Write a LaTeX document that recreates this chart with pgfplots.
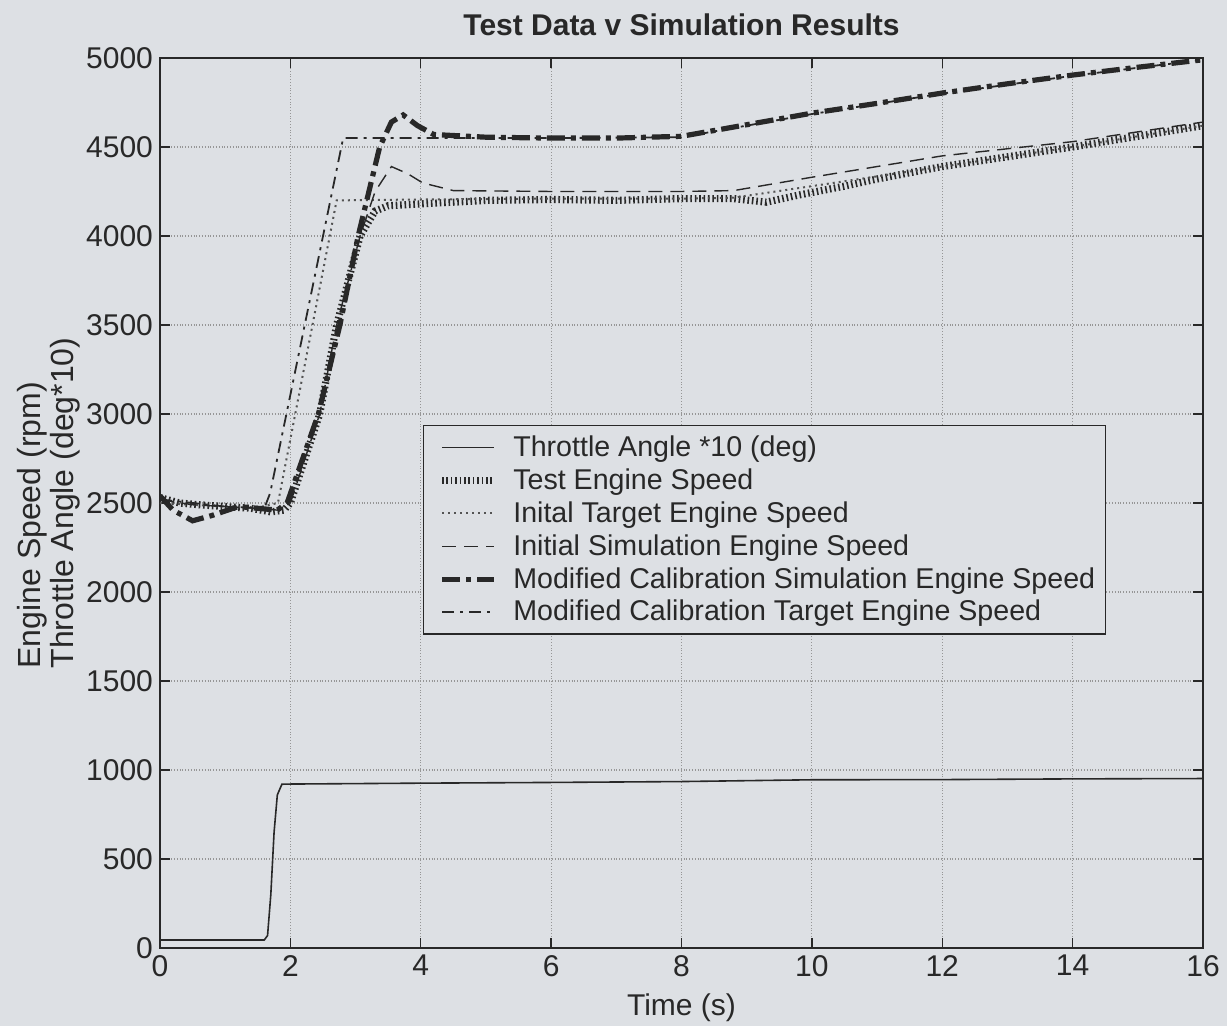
\documentclass[border=0pt]{standalone}
\usepackage{fontspec}
\setmainfont{Liberation Sans}
\usepackage{pgfplots}
\pgfplotsset{compat=1.18}

\definecolor{bgc}{RGB}{221,224,228}
\definecolor{ink}{RGB}{40,40,40}
\definecolor{gridc}{RGB}{150,150,150}

\begin{document}
\begin{tikzpicture}
\path[use as bounding box, fill=bgc] (-80pt,-39pt) rectangle (533.5pt,474pt);
\begin{axis}[
  at={(0,0)}, anchor=south west,
  scale only axis, width=521.5pt, height=445pt,
  xmin=0, xmax=16, ymin=0, ymax=5000,
  xtick={0,2,...,16}, ytick={0,500,...,5000},
  tick align=inside, tick pos=both,
  major tick length=5pt,
  grid=major, grid style={gridc, densely dotted, line width=0.6pt},
  axis line style={ink, line width=0.7pt},
  every tick/.style={ink, line width=0.7pt},
  /pgf/number format/assume math mode=true,
  /pgf/number format/1000 sep={},
  tick label style={font=\fontsize{15}{18}\selectfont, text=ink},
  title={\textbf{Test Data v Simulation Results}},
  title style={font=\fontsize{15}{18}\selectfont, text=ink, yshift=1.5pt},
  xlabel={Time (s)},
  ylabel={Engine Speed (rpm)\\Throttle Angle (deg*10)},
  ylabel style={align=left, font=\fontsize{16}{16.5}\selectfont, text=ink, yshift=-4pt},
  xlabel style={font=\fontsize{15}{18}\selectfont, text=ink, yshift=-2pt},
  legend style={at={(axis cs:4.03,2938)}, anchor=north west,
    fill=bgc, draw=ink, line width=0.6pt,
    font=\fontsize{14.3}{16}\selectfont, text=ink,
    cells={anchor=west}, row sep=0.6pt, inner sep=3pt},
  legend image code/.code={\draw[#1] (0.16cm,0cm) -- (1.08cm,0cm);
    \path (0cm,0cm) (1.28cm,0cm);},
]
% throttle angle * 10
\addplot[ink, line width=0.8pt] coordinates {
  (0,45)(1.6,45)(1.65,70)(1.7,300)(1.75,650)(1.8,860)(1.87,920)
  (2,921)(4,926)(6,930)(8,935)(10,945)(12,946)(14,950)(16,952)};
% test engine speed
\addplot[ink, line width=3.6pt, dash pattern=on 0.8pt off 1.4pt] coordinates {
  (0,2530)(0.3,2500)(0.6,2490)(1.0,2480)(1.4,2470)(1.7,2450)(1.9,2460)
  (2.0,2500)(2.45,3000)(2.71,3500)(3.07,4000)(3.3,4140)(3.5,4170)
  (4,4180)(5,4200)(6,4205)(7,4200)(8,4210)(8.8,4210)(9.3,4190)
  (9.8,4230)(10.5,4280)(11,4320)(12,4390)(13,4445)(14,4500)(15,4560)(16,4620)};
% initial target engine speed
\addplot[ink!80, line width=1pt, dotted] coordinates {
  (0,2500)(0.5,2490)(1.0,2480)(1.5,2475)(1.81,2500)(2.71,4200)
  (4,4205)(6,4210)(8,4210)(8.8,4215)(10,4280)(12,4390)(14,4500)(16,4620)};
% initial simulation engine speed
\addplot[ink, line width=0.7pt, dash pattern=on 7pt off 4pt] coordinates {
  (0,2520)(0.5,2490)(1.0,2480)(1.5,2470)(1.8,2460)(2.0,2500)(2.45,3000)
  (2.71,3500)(3.07,4000)(3.3,4250)(3.55,4390)(3.8,4350)(4.03,4298)
  (4.5,4255)(6,4250)(8,4250)(8.8,4255)(10,4330)(12,4450)(14,4530)(16,4640)};
% modified calibration simulation engine speed
\addplot[ink, line width=2.6pt, dash pattern=on 9pt off 3pt on 2.5pt off 3pt] coordinates {
  (0,2540)(0.2,2460)(0.5,2400)(0.8,2430)(1.2,2480)(1.5,2470)(1.8,2460)
  (1.95,2500)(2.43,3000)(2.76,3500)(3.04,4000)(3.37,4500)(3.55,4640)
  (3.73,4680)(3.95,4620)(4.2,4570)(5,4555)(6,4550)(7,4550)(8,4560)
  (9,4625)(10,4690)(11,4745)(12,4803)(13,4855)(14,4904)(15,4948)(16,4990)};
% modified calibration target engine speed
\addplot[ink, line width=0.9pt, dash pattern=on 6pt off 3pt on 1.5pt off 3pt] coordinates {
  (0,2520)(0.5,2500)(1.0,2480)(1.6,2470)(1.69,2556)(2.81,4550)
  (4,4550)(6,4550)(8,4555)(9,4620)(10,4685)(12,4800)(14,4900)(16,4990)};
\legend{Throttle Angle *10 (deg), Test Engine Speed, Inital Target Engine Speed,
  Initial Simulation Engine Speed, Modified Calibration Simulation Engine Speed,
  Modified Calibration Target Engine Speed}
\end{axis}
\end{tikzpicture}
\end{document}
